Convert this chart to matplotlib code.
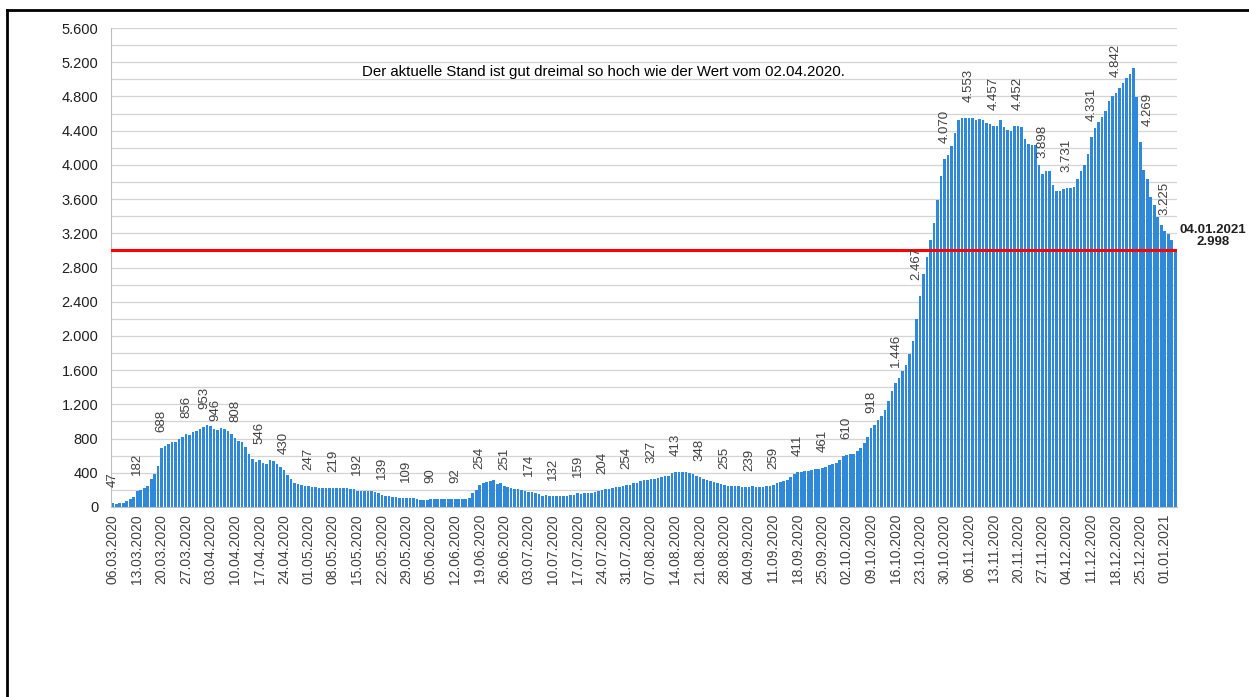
import numpy as np
import pandas as pd
import matplotlib
matplotlib.use("Agg")
import matplotlib.pyplot as plt
from matplotlib.lines import Line2D

plt.rcParams['font.family'] = ['Liberation Sans', 'DejaVu Sans']

# Tageswerte ab 06.03.2020
start = "2020-03-06"
mar = [47, 38, 42, 52, 70, 90, 118, 182, 196, 227, 247, 325, 384, 482, 688, 710,
       737, 757, 760, 796, 815, 856, 847, 874, 886, 913]
apr = [933, 953, 946, 913, 902, 925, 913, 894, 855, 808, 776, 757, 698, 620, 560,
       521, 546, 510, 502, 549, 541, 502, 462, 430, 376, 325, 286, 266, 255, 245]
may = [247, 238, 232, 225, 220, 220, 222, 219, 220, 218, 222, 225, 215, 205, 192,
       188, 185, 185, 183, 178, 160, 139, 133, 125, 118, 112, 110, 108, 109, 106, 100]
jun = [90, 85, 84, 86, 90, 92, 93, 95, 97, 93, 91, 92, 90, 90, 95, 100, 165, 200,
       254, 280, 295, 305, 318, 266, 275, 251, 232, 222, 215, 210]
jul = [200, 185, 174, 172, 165, 150, 133, 137, 132, 132, 130, 130, 130, 131, 135,
       145, 159, 157, 158, 165, 168, 178, 192, 204, 205, 205, 220, 232, 238, 245, 254]
aug = [260, 275, 285, 300, 310, 318, 327, 330, 340, 350, 358, 368, 395, 413, 410,
       410, 410, 400, 380, 360, 348, 330, 320, 308, 290, 280, 270, 255, 245, 245, 245]
sep = [240, 235, 230, 239, 242, 238, 232, 232, 240, 250, 259, 275, 290, 300, 320,
       345, 390, 411, 415, 418, 420, 430, 440, 450, 461, 467, 495, 506, 518, 545]
oct_ = [596, 610, 616, 623, 654, 690, 748, 818, 918, 954, 1013, 1060, 1130, 1235,
        1352, 1446, 1511, 1589, 1663, 1792, 1936, 2201, 2467, 2727, 2922, 3117, 3323,
        3592, 3868, 4070, 4110]
nov = [4219, 4375, 4519, 4550, 4553, 4553, 4545, 4526, 4538, 4519, 4485, 4475, 4457,
       4450, 4519, 4440, 4410, 4400, 4460, 4452, 4440, 4305, 4240, 4235, 4227, 4000,
       3898, 3927, 3927, 3760]
dec = [3689, 3700, 3712, 3731, 3728, 3740, 3837, 3923, 3993, 4130, 4331, 4430, 4500,
       4558, 4635, 4750, 4800, 4842, 4900, 4960, 5010, 5060, 5130, 4790, 4269, 3935,
       3837, 3623, 3525, 3390, 3292]
jan = [3225, 3195, 3117, 2998]

values = np.array(mar + apr + may + jun + jul + aug + sep + oct_ + nov + dec + jan)
dates = pd.date_range(start, periods=len(values), freq="D")

tick_step = 7
extra_label_days = ["02.04.2020"]
# von Hand verschobene Beschriftungen (dx, dy in Punkt)
label_shift = {"02.04.2020": (-2, 12), "03.04.2020": (3.5, 4),
               "23.10.2020": (-2.5, 11.5), "25.12.2020": (5, 11.5)}
ref_value = 3000
note = "Der aktuelle Stand ist gut dreimal so hoch wie der Wert vom 02.04.2020."


def de(v):
    return f"{int(v):,}".replace(",", ".")


W, H = 1249, 697
fig = plt.figure(figsize=(W / 100, H / 100), dpi=100)
ax = fig.add_axes([111 / W, 1 - 507 / H, (1177 - 111) / W, (507 - 28) / H])

x = np.arange(len(values))
ax.bar(x, values, width=0.75, color='#2f88da', zorder=2)
ax.set_xlim(-0.5, len(values) - 0.5)
ax.set_ylim(0, 5600)

ax.set_yticks(np.arange(0, 5601, 400))
ax.set_yticks(np.arange(200, 5600, 400), minor=True)
ax.yaxis.set_major_formatter(lambda v, p: de(v))
ax.grid(axis='y', which='both', color='#d4d4d4', lw=0.9, zorder=0)
ax.set_axisbelow(True)

ticks = x[::tick_step]
labels = [d.strftime('%d.%m.%Y') for d in dates[ticks]]
ax.set_xticks(ticks)
ax.set_xticklabels(labels, rotation=90, fontsize=10, color='#404040')
ax.tick_params(axis='y', labelsize=10.5, labelcolor='#202020', pad=9)
ax.tick_params(which='both', length=0)
ax.tick_params(axis='x', pad=5)

for s in ['top', 'right']:
    ax.spines[s].set_visible(False)
for s in ['left', 'bottom']:
    ax.spines[s].set_color('#bfbfbf')

ax.axhline(ref_value, color='#ff0000', lw=2.2, zorder=3)

# Datenbeschriftungen
ann_days = list(ticks) + [dates.get_loc(pd.to_datetime(d, dayfirst=True)) for d in extra_label_days]
for i in ann_days:
    key = dates[i].strftime('%d.%m.%Y')
    dx, dy = label_shift.get(key, (0, 11.5))
    ax.annotate(de(values[i]), (x[i], values[i]), xytext=(dx, dy),
                textcoords='offset points', rotation=90, ha='center', va='bottom',
                fontsize=9.5, color='#404040', zorder=4)

ax.text((603 - 111) / (1177 - 111), (507 - 72) / (507 - 28), note,
        transform=ax.transAxes, ha='center', va='center', fontsize=10.8, color='black')

# letzter Wert rechts neben dem Diagramm
ax.annotate(dates[-1].strftime('%d.%m.%Y') + "\n" + de(values[-1]),
            (x[-1], values[-1]), xytext=(27, 1.5), textcoords='offset points',
            ha='center', va='bottom', fontsize=9.5, fontweight='bold',
            color='#202020', linespacing=1.1, annotation_clip=False)

# Rahmen
fig.add_artist(Line2D([7 / W, 7 / W], [0, 1 - 10 / H], color='black', lw=2))
fig.add_artist(Line2D([7 / W, 1], [1 - 10 / H, 1 - 10 / H], color='black', lw=2))

fig.savefig("out.png", dpi=100)
